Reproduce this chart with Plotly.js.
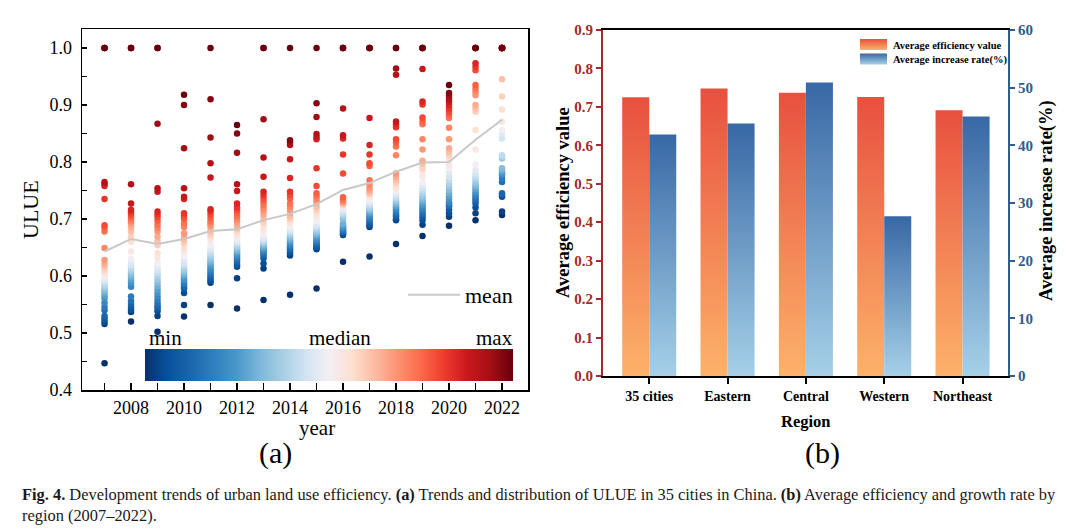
<!DOCTYPE html>
<html>
<head>
<meta charset="utf-8">
<script src="https://cdn.plot.ly/plotly-3.0.1.min.js"></script>
<style>
  html, body { margin: 0; padding: 0; background: #ffffff; }
  #chart { width: 1080px; height: 531px; }
</style>
</head>
<body>
<div id="chart"></div>
<script>
// ---------------- DATA: panel (a) ----------------
const years = [2007, 2008, 2009, 2010, 2011, 2012, 2013, 2014, 2015, 2016, 2017, 2018, 2019, 2020, 2021, 2022];

const ulue2007 = [1, 1, 1, 0.765, 0.762, 0.758, 0.735, 0.689, 0.684, 0.678, 0.649, 0.628, 0.622, 0.617, 0.611, 0.607, 0.603, 0.599,
  0.595, 0.591, 0.587, 0.583, 0.579, 0.575, 0.571, 0.566, 0.561, 0.553, 0.546, 0.540, 0.530, 0.525, 0.520, 0.516, 0.447];
const ulue2008 = [1, 1, 1, 0.761, 0.727, 0.716, 0.712, 0.708, 0.704, 0.700, 0.696, 0.692, 0.686, 0.678, 0.669, 0.660, 0.643, 0.630,
  0.625, 0.619, 0.615, 0.611, 0.606, 0.602, 0.598, 0.593, 0.588, 0.581, 0.564, 0.556, 0.551, 0.546, 0.541, 0.537, 0.520];
const ulue2009 = [1, 1, 0.867, 0.754, 0.748, 0.713, 0.708, 0.703, 0.697, 0.690, 0.684, 0.678, 0.669, 0.661, 0.654, 0.640, 0.632, 0.622,
  0.616, 0.610, 0.605, 0.600, 0.594, 0.588, 0.582, 0.576, 0.570, 0.564, 0.558, 0.552, 0.547, 0.543, 0.538, 0.530, 0.502];
const ulue2010 = [0.918, 0.900, 0.824, 0.754, 0.739, 0.735, 0.710, 0.705, 0.700, 0.692, 0.686, 0.675, 0.669, 0.663, 0.657, 0.648, 0.643, 0.634,
  0.628, 0.622, 0.618, 0.614, 0.610, 0.606, 0.602, 0.599, 0.595, 0.592, 0.588, 0.585, 0.581, 0.578, 0.570, 0.549, 0.529];
const ulue2011 = [1, 0.910, 0.843, 0.798, 0.773, 0.717, 0.713, 0.708, 0.702, 0.696, 0.692, 0.688, 0.684, 0.678, 0.672, 0.669, 0.663, 0.655,
  0.650, 0.645, 0.640, 0.636, 0.632, 0.628, 0.624, 0.620, 0.616, 0.612, 0.608, 0.604, 0.600, 0.596, 0.592, 0.588, 0.549];
const ulue2012 = [0.865, 0.850, 0.816, 0.761, 0.749, 0.727, 0.720, 0.716, 0.711, 0.705, 0.700, 0.695, 0.689, 0.684, 0.680, 0.675, 0.671, 0.667,
  0.663, 0.659, 0.656, 0.653, 0.650, 0.647, 0.644, 0.641, 0.638, 0.635, 0.632, 0.629, 0.625, 0.620, 0.616, 0.596, 0.543];
const ulue2013 = [1, 1, 0.875, 0.808, 0.774, 0.748, 0.742, 0.737, 0.731, 0.725, 0.719, 0.713, 0.707, 0.700, 0.694, 0.687, 0.680, 0.672,
  0.668, 0.665, 0.662, 0.660, 0.657, 0.655, 0.652, 0.650, 0.647, 0.645, 0.642, 0.640, 0.636, 0.631, 0.622, 0.613, 0.558];
const ulue2014 = [1, 0.838, 0.834, 0.830, 0.805, 0.772, 0.748, 0.742, 0.736, 0.727, 0.722, 0.716, 0.710, 0.704, 0.700, 0.698, 0.692, 0.687,
  0.683, 0.680, 0.677, 0.674, 0.671, 0.668, 0.665, 0.662, 0.659, 0.656, 0.653, 0.650, 0.647, 0.644, 0.640, 0.636, 0.567];
const ulue2015 = [1, 0.903, 0.879, 0.849, 0.844, 0.840, 0.789, 0.758, 0.745, 0.740, 0.735, 0.731, 0.728, 0.722, 0.716, 0.710, 0.704, 0.697,
  0.692, 0.688, 0.685, 0.682, 0.679, 0.676, 0.673, 0.670, 0.667, 0.664, 0.661, 0.658, 0.655, 0.652, 0.650, 0.647, 0.578];
const ulue2016 = [1, 1, 1, 0.894, 0.847, 0.841, 0.813, 0.780, 0.738, 0.735, 0.732, 0.730, 0.729, 0.727, 0.725, 0.724, 0.722, 0.720,
  0.716, 0.713, 0.710, 0.707, 0.704, 0.700, 0.692, 0.689, 0.686, 0.684, 0.682, 0.680, 0.678, 0.676, 0.674, 0.672, 0.625];
const ulue2017 = [1, 1, 1, 1, 0.877, 0.830, 0.813, 0.798, 0.793, 0.768, 0.760, 0.754, 0.750, 0.746, 0.744, 0.742, 0.738, 0.734,
  0.730, 0.727, 0.724, 0.721, 0.718, 0.716, 0.713, 0.710, 0.708, 0.705, 0.702, 0.699, 0.696, 0.692, 0.689, 0.686, 0.634];
const ulue2018 = [1, 1, 0.964, 0.953, 0.871, 0.866, 0.861, 0.840, 0.834, 0.827, 0.812, 0.780, 0.774, 0.768, 0.763, 0.757, 0.753, 0.750,
  0.746, 0.742, 0.738, 0.735, 0.732, 0.729, 0.726, 0.723, 0.720, 0.717, 0.714, 0.710, 0.706, 0.704, 0.700, 0.698, 0.656];
const ulue2019 = [1, 1, 1, 1, 0.963, 0.906, 0.901, 0.878, 0.872, 0.866, 0.840, 0.822, 0.802, 0.798, 0.790, 0.785, 0.775, 0.765,
  0.760, 0.755, 0.750, 0.745, 0.740, 0.736, 0.732, 0.728, 0.724, 0.720, 0.716, 0.712, 0.708, 0.703, 0.698, 0.690, 0.670];
const ulue2020 = [0.935, 0.921, 0.916, 0.911, 0.906, 0.900, 0.894, 0.888, 0.883, 0.877, 0.860, 0.840, 0.824, 0.818, 0.812, 0.806, 0.795, 0.789,
  0.783, 0.774, 0.768, 0.762, 0.757, 0.751, 0.745, 0.740, 0.735, 0.730, 0.727, 0.724, 0.722, 0.716, 0.710, 0.704, 0.688];
const ulue2021 = [1, 1, 1, 1, 1, 0.973, 0.967, 0.961, 0.935, 0.929, 0.923, 0.917, 0.900, 0.894, 0.888, 0.856, 0.822, 0.796,
  0.786, 0.780, 0.775, 0.770, 0.765, 0.760, 0.756, 0.752, 0.748, 0.744, 0.740, 0.736, 0.732, 0.727, 0.720, 0.710, 0.698];
const ulue2022 = [1, 1, 1, 1, 1, 1, 1, 1, 1, 1, 1, 1, 1, 0.945, 0.915, 0.892, 0.871, 0.856,
  0.850, 0.841, 0.812, 0.809, 0.806, 0.789, 0.786, 0.783, 0.780, 0.777, 0.771, 0.765, 0.745, 0.742, 0.739, 0.713, 0.707];

const ulueByYear = [ulue2007, ulue2008, ulue2009, ulue2010, ulue2011, ulue2012, ulue2013, ulue2014,
                    ulue2015, ulue2016, ulue2017, ulue2018, ulue2019, ulue2020, ulue2021, ulue2022];

const meanULUE = [0.643, 0.665, 0.656, 0.665, 0.679, 0.682, 0.698, 0.709, 0.726, 0.751, 0.763, 0.783, 0.799, 0.800, 0.839, 0.874];

// ---------------- DATA: panel (b) ----------------
const regions = ['35 cities', 'Eastern', 'Central', 'Western', 'Northeast'];
const avgEfficiency = [0.725, 0.748, 0.737, 0.726, 0.691];
const avgIncreaseRate = [41.9, 43.8, 50.9, 27.7, 45.0];

// ---------------- STYLE ----------------
const SERIF = 'Liberation Serif, Times New Roman, serif';
const W = 1080, H = 531;
const px = v => v / W;
const py = v => 1 - v / H;

const rankScale = [
  [0.0, '#08306b'], [0.0625, '#08519c'], [0.125, '#1c66ad'], [0.1875, '#2f7fbf'], [0.25, '#4a98c9'],
  [0.3125, '#7db7da'], [0.375, '#a9cfe5'], [0.4375, '#d2e4f2'], [0.5, '#f3eef3'], [0.5625, '#fde0d2'],
  [0.625, '#fcbba1'], [0.6875, '#fc9272'], [0.75, '#fb6a4a'], [0.8125, '#ef3b2c'], [0.875, '#cb181d'],
  [0.9375, '#a50f15'], [1.0, '#67000d']
];

// build scatter points: colour = rank within the year (min -> max)
const sx = [], sy = [], sc = [];
years.forEach((yr, i) => {
  const vals = ulueByYear[i].slice().sort((a, b) => a - b);
  const n = vals.length;
  vals.forEach((v, k) => { sx.push(yr); sy.push(v); sc.push(k / (n - 1)); });
});

const effColor = 'rgb(232, 83, 63)';
const rateColor = 'rgb(58, 107, 165)';
const leftAxisColor = '#A52A2A';
const rightAxisColor = '#2F5D8C';

const traces = [
  {
    type: 'scatter', mode: 'markers', x: sx, y: sy, xaxis: 'x', yaxis: 'y',
    showlegend: false, hoverinfo: 'skip',
    marker: {
      size: 6.5, color: sc, colorscale: rankScale, cmin: 0, cmax: 1, line: { width: 0 },
      showscale: true,
      colorbar: {
        orientation: 'h', x: px(145), xanchor: 'left', y: py(349), yanchor: 'top',
        len: 368, lenmode: 'pixels', thickness: 32, thicknessmode: 'pixels',
        xpad: 0, ypad: 0, outlinewidth: 0, showticklabels: false, ticks: '',
        bgcolor: 'rgba(0,0,0,0)'
      }
    }
  },
  {
    type: 'scatter', mode: 'lines', x: years, y: meanULUE, xaxis: 'x', yaxis: 'y',
    name: 'mean', legend: 'legend', line: { color: '#c8c8c8', width: 2 }
  },
  {
    type: 'bar', x: regions, y: avgEfficiency, xaxis: 'x2', yaxis: 'y2',
    name: 'Average efficiency value', legend: 'legend2',
    width: 0.345, offset: -0.345, marker: { color: effColor, line: { width: 0 } }
  },
  {
    type: 'bar', x: regions, y: avgIncreaseRate, xaxis: 'x2', yaxis: 'y3',
    name: 'Average increase rate(%)', legend: 'legend2',
    width: 0.345, offset: 0, marker: { color: rateColor, line: { width: 0 } }
  }
];

const ann = (text, x, y, size, opts = {}) => Object.assign({
  text, x, y, xref: 'paper', yref: 'paper', showarrow: false,
  font: { family: SERIF, size, color: '#000' }, xanchor: 'center', yanchor: 'middle'
}, opts);

const captionFont = { family: SERIF, size: 16.4, color: '#1a1a1a' };

const layout = {
  width: W, height: H,
  margin: { l: 0, r: 0, t: 0, b: 0 },
  paper_bgcolor: '#ffffff', plot_bgcolor: '#ffffff',
  font: { family: SERIF, color: '#000' },
  xaxis: {
    domain: [px(82), px(528)], anchor: 'y', range: [2006.15, 2022.98],
    tick0: 2008, dtick: 2, ticks: 'inside', ticklen: 7, tickwidth: 1.3, tickcolor: '#000',
    showline: true, linecolor: '#000', linewidth: 1.5, mirror: true,
    showgrid: false, zeroline: false, ticklabelstandoff: 1,
    tickfont: { family: SERIF, size: 18, color: '#000' },
    minor: { dtick: 1, ticks: 'inside', ticklen: 7, tickwidth: 1.3, tickcolor: '#000', showgrid: false }
  },
  yaxis: {
    domain: [py(390), py(29)], anchor: 'x', range: [0.4, 1.0333],
    tick0: 0.4, dtick: 0.1, tickformat: '.1f', ticks: 'inside', ticklen: 5, tickwidth: 1.3, tickcolor: '#000',
    showline: true, linecolor: '#000', linewidth: 1.5, mirror: true,
    showgrid: false, zeroline: false, ticklabelstandoff: 5,
    tickfont: { family: SERIF, size: 18, color: '#000' },
    minor: { dtick: 0.05, ticks: 'inside', ticklen: 5, tickwidth: 1.3, tickcolor: '#000', showgrid: false }
  },
  xaxis2: {
    domain: [px(603), px(1008)], anchor: 'y2', type: 'category', range: [-0.59, 4.58],
    ticks: 'outside', ticklen: 6, tickwidth: 2, tickcolor: '#000',
    showline: true, linecolor: '#000', linewidth: 2, mirror: true,
    showgrid: false, zeroline: false,
    tickfont: { family: SERIF, size: 14, color: '#000', weight: 'bold' }
  },
  yaxis2: {
    domain: [py(376), py(30)], anchor: 'x2', range: [0, 0.9], dtick: 0.1, tickformat: '.1f',
    ticks: 'outside', ticklen: 5, tickwidth: 2, tickcolor: leftAxisColor,
    showline: true, linecolor: leftAxisColor, linewidth: 2,
    showgrid: false, zeroline: false,
    tickfont: { family: SERIF, size: 15, color: leftAxisColor, weight: 'bold' }
  },
  yaxis3: {
    overlaying: 'y2', side: 'right', anchor: 'x2', range: [0, 60], dtick: 10,
    ticks: 'outside', ticklen: 5, tickwidth: 2, tickcolor: rightAxisColor,
    showline: true, linecolor: rightAxisColor, linewidth: 2,
    showgrid: false, zeroline: false,
    tickfont: { family: SERIF, size: 15, color: rightAxisColor, weight: 'bold' }
  },
  legend: {
    x: px(403), xanchor: 'left', y: py(295), yanchor: 'middle',
    bgcolor: 'rgba(0,0,0,0)', borderwidth: 0, itemwidth: 52,
    font: { family: SERIF, size: 22, color: '#000' }
  },
  legend2: {
    x: px(853), xanchor: 'left', y: py(30), yanchor: 'top',
    bgcolor: 'rgba(0,0,0,0)', borderwidth: 0, itemwidth: 30, tracegroupgap: 0,
    font: { family: SERIF, size: 10.5, color: '#000', weight: 'bold' }
  },
  annotations: [
    ann('ULUE', px(30), py(210), 22, { textangle: -90 }),
    ann('year', px(317), py(428), 21),
    ann('(a)', px(275), py(453), 30),
    ann('min', px(165), py(338), 21),
    ann('median', px(340), py(338), 21),
    ann('max', px(494), py(338), 21),
    ann('<b>Average efficiency value</b>', px(563), py(203), 18.5, { textangle: -90 }),
    ann('<b>Average increase rate(%)</b>', px(1047), py(201), 18.5, { textangle: -90 }),
    ann('<b>Region</b>', px(806), py(421), 16.5),
    ann('(b)', px(822), py(453), 30),
    ann('<b>Fig. 4.</b> Development trends of urban land use efficiency. <b>(a)</b> Trends and distribution of ULUE in 35 cities in China. <b>(b)</b> Average efficiency and growth rate by',
        px(20), py(494), 16.4, { xanchor: 'left', font: captionFont }),
    ann('region (2007–2022).', px(20), py(515), 16.4, { xanchor: 'left', font: captionFont })
  ]
};

const NS = 'http://www.w3.org/2000/svg';
function addGrad(defs, id, stops) {
  const g = document.createElementNS(NS, 'linearGradient');
  g.setAttribute('id', id);
  g.setAttribute('x1', '0'); g.setAttribute('y1', '0');
  g.setAttribute('x2', '0'); g.setAttribute('y2', '1');
  stops.forEach(([off, col]) => {
    const s = document.createElementNS(NS, 'stop');
    s.setAttribute('offset', off); s.setAttribute('stop-color', col);
    g.appendChild(s);
  });
  defs.appendChild(g);
}
function applyGradients(gd) {
  gd.querySelectorAll('svg.main-svg').forEach(svg => {
    let defs = svg.querySelector('defs');
    if (!defs) { defs = document.createElementNS(NS, 'defs'); svg.insertBefore(defs, svg.firstChild); }
    addGrad(defs, 'gradEff', [['0%', '#E8503F'], ['100%', '#FDB26A']]);
    addGrad(defs, 'gradRate', [['0%', '#3868A5'], ['100%', '#A6D0E8']]);
  });
  gd.querySelectorAll('path').forEach(p => {
    const f = p.style.fill;
    let id = null;
    if (f === effColor) id = 'gradEff';
    else if (f === rateColor) id = 'gradRate';
    if (id) {
      p.style.fill = 'url(#' + id + ')';
      if (p.closest('.legendpoints')) p.setAttribute('d', 'M14,5.5H-13V-5.5H14Z');
    }
  });
  // tighten the row spacing of the bar legend (reference rows are ~14px apart)
  const items = gd.querySelectorAll('g.legend2 g.traces');
  if (items.length === 2) {
    const m0 = /translate\(([-\d.]+),\s*([-\d.]+)\)/.exec(items[0].getAttribute('transform') || '');
    const m1 = /translate\(([-\d.]+),\s*([-\d.]+)\)/.exec(items[1].getAttribute('transform') || '');
    if (m0 && m1) {
      items[1].setAttribute('transform', 'translate(' + m1[1] + ',' + (parseFloat(m0[2]) + 14.5) + ')');
    }
  }
}

const gd = document.getElementById('chart');
Plotly.newPlot(gd, traces, layout, { staticPlot: true, displayModeBar: false }).then(() => applyGradients(gd));
</script>
</body>
</html>
